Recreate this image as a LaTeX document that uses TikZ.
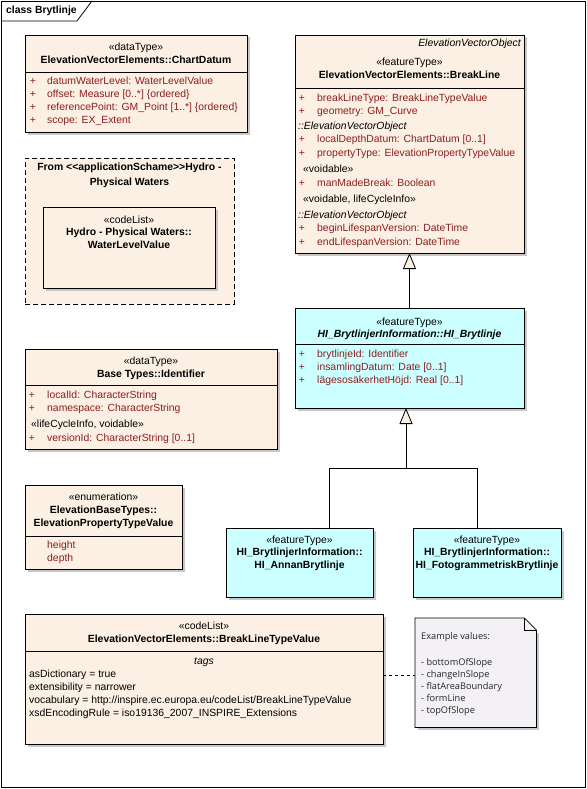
\documentclass[tikz,border=0pt]{standalone}
\usepackage{fontspec}
\setmainfont{Liberation Sans}
\newfontfamily\notefont{Open Sans}
\usetikzlibrary{shadows,arrows.meta}
\definecolor{cream}{HTML}{FBF0E3}
\definecolor{cyanbox}{HTML}{CCFFFF}
\definecolor{attrred}{HTML}{8B1F1F}
\definecolor{notefill}{HTML}{F3F1F5}
\newcommand{\myattr}[4]{\node[atxt] at (#1,#3) {+}; \node[atxt, anchor=mid west] at (#2,#3) {#4};}
\tikzset{
  box/.style={draw=black, line width=0.8pt, anchor=north west, inner sep=0pt, outer sep=0pt,
    drop shadow={shadow xshift=2.5pt, shadow yshift=-2.5pt, fill=black!22, opacity=1}},
  creambox/.style={box, fill=cream},
  cyanb/.style={box, fill=cyanbox},
  txt/.style={inner sep=0pt, anchor=mid, font=\fontsize{10.4}{12}\selectfont},
  btxt/.style={txt, font=\fontsize{10.4}{12}\selectfont\bfseries},
  bitxt/.style={txt, font=\fontsize{10.4}{12}\selectfont\bfseries\itshape},
  itxt/.style={txt, font=\fontsize{10.4}{12}\selectfont\itshape},
  atxt/.style={txt, text=attrred},
  ntxt/.style={inner sep=0pt, anchor=mid west, font=\notefont\fontsize{9.2}{11}\selectfont, text=black!85},
  divider/.style={line width=0.8pt},
  conn/.style={line width=0.9pt},
  gen/.style={conn, -{Triangle[width=13pt, length=16pt, fill=cream, line width=0.8pt]}},
  dashline/.style={line width=0.8pt, dash pattern=on 3pt off 3pt}
}
\begin{document}
\begin{tikzpicture}[x=1pt, y=-1pt]
\useasboundingbox (0,0) rectangle (586,789);
\fill[white] (0,0) rectangle (586,789);
% frame
\draw[line width=0.8pt] (1,1) rectangle (585,787);
\draw[line width=0.8pt] (1,21) -- (77,21) -- (92,1);
\node[btxt, anchor=mid west] (title) at (6,11) {class Brytlinje};

% ChartDatum
\node[creambox, minimum width=222pt, minimum height=97pt] (cd) at (25,35) {};
\node[txt] at (136,48) {«dataType»};
\node[btxt] at (136,61) {ElevationVectorElements::ChartDatum};
\draw[divider] (25,72) -- (247,72);
\myattr{33}{47}{82}{datumWaterLevel: WaterLevelValue}
\myattr{33}{47}{95}{offset: Measure [0..*] \{ordered\}}
\myattr{33}{47}{108}{referencePoint: GM\_Point [1..*] \{ordered\}}
\myattr{33}{47}{121}{scope: EX\_Extent}

% BreakLine
\node[creambox, minimum width=229pt, minimum height=218pt] (bl) at (295,35) {};
\node[itxt, anchor=mid east] at (521,44) {ElevationVectorObject};
\node[txt] at (409.5,63) {«featureType»};
\node[btxt] at (409.5,76) {ElevationVectorElements::BreakLine};
\draw[divider] (295,88) -- (524,88);
\myattr{302}{317}{99}{breakLineType: BreakLineTypeValue}
\myattr{302}{317}{112}{geometry: GM\_Curve}
\node[itxt, anchor=mid west] at (298,127) {::ElevationVectorObject};
\myattr{302}{317}{140}{localDepthDatum: ChartDatum [0..1]}
\myattr{302}{317}{154}{propertyType: ElevationPropertyTypeValue}
\node[txt, anchor=mid west] at (303,170) {«voidable»};
\myattr{302}{317}{184}{manMadeBreak: Boolean}
\node[txt, anchor=mid west] at (303,200) {«voidable, lifeCycleInfo»};
\node[itxt, anchor=mid west] at (298,216) {::ElevationVectorObject};
\myattr{302}{317}{229}{beginLifespanVersion: DateTime}
\myattr{302}{317}{243}{endLifespanVersion: DateTime}

% Hydro package
\node[draw=black, line width=0.8pt, dash pattern=on 5pt off 3pt, fill=cream, anchor=north west,
  minimum width=209pt, minimum height=146pt, inner sep=0pt] (pkg) at (25,158) {};
\node[btxt] at (129.5,168) {From <\kern0pt<applicationSchame>\kern0pt>Hydro -};
\node[btxt] at (129.5,183) {Physical Waters};
\node[creambox, minimum width=172pt, minimum height=81pt] (wlv) at (43,207) {};
\node[txt] at (129,221) {«codeList»};
\node[btxt] at (129,233) {Hydro - Physical Waters::};
\node[btxt] at (129,246) {WaterLevelValue};

% HI_Brytlinje
\node[cyanb, minimum width=229pt, minimum height=100pt] (hib) at (295,308) {};
\node[txt] at (409.5,323) {«featureType»};
\node[bitxt] at (409.5,335) {HI\_BrytlinjerInformation::HI\_Brytlinje};
\draw[divider] (295,344) -- (524,344);
\myattr{302}{317}{355}{brytlinjeId: Identifier}
\myattr{302}{317}{368}{insamlingDatum: Date [0..1]}
\myattr{302}{317}{381}{lägesosäkerhetHöjd: Real [0..1]}

% Identifier
\node[creambox, minimum width=252pt, minimum height=100pt] (idf) at (25,349) {};
\node[txt] at (151,362) {«dataType»};
\node[btxt] at (151,375) {Base Types::Identifier};
\draw[divider] (25,385) -- (277,385);
\myattr{32}{47}{396}{localId: CharacterString}
\myattr{32}{47}{409}{namespace: CharacterString}
\node[txt, anchor=mid west] at (31,425) {«lifeCycleInfo, voidable»};
\myattr{32}{47}{439}{versionId: CharacterString [0..1]}

% Enumeration
\node[creambox, minimum width=157pt, minimum height=84pt] (enm) at (25,485) {};
\node[txt] at (103.5,498) {«enumeration»};
\node[btxt] at (103.5,511) {ElevationBaseTypes::};
\node[btxt] at (103.5,524) {ElevationPropertyTypeValue};
\draw[divider] (25,536) -- (182,536);
\node[atxt, anchor=mid west] at (47,546) {height};
\node[atxt, anchor=mid west] at (47,559) {depth};

% Annan / Foto
\node[cyanb, minimum width=147pt, minimum height=69pt] (annan) at (226,528) {};
\node[txt] at (299.5,541) {«featureType»};
\node[btxt] at (299.5,553) {HI\_BrytlinjerInformation::};
\node[btxt] at (299.5,566) {HI\_AnnanBrytlinje};
\node[cyanb, minimum width=148pt, minimum height=69pt] (foto) at (413,528) {};
\node[txt] at (487,541) {«featureType»};
\node[btxt] at (487,553) {HI\_BrytlinjerInformation::};
\node[btxt] at (487,566) {HI\_FotogrammetriskBrytlinje};

% BreakLineTypeValue
\node[creambox, minimum width=358pt, minimum height=130pt] (bltv) at (25,614) {};
\node[txt] at (204,627) {«codeList»};
\node[btxt] at (204,640) {ElevationVectorElements::BreakLineTypeValue};
\draw[divider] (25,651) -- (383,651);
\node[itxt] at (204,662) {tags};
\node[txt, anchor=mid west] at (29,675) {asDictionary = true};
\node[txt, anchor=mid west] at (29,688) {extensibility = narrower};
\node[txt, anchor=mid west] at (29,701) {vocabulary = http://inspire.ec.europa.eu/codeList/BreakLineTypeValue};
\node[txt, anchor=mid west] at (29,714) {xsdEncodingRule = iso19136\_2007\_INSPIRE\_Extensions};

% Note
\node[anchor=north west, minimum width=121pt, minimum height=109pt, inner sep=0pt] (note) at (415,618) {};
\fill[black!22] ([shift={(2.5pt,-2.5pt)}]note.north west) ++(0,12) |- ([shift={(2.5pt,-2.5pt)}]note.south east) |- cycle;
\draw[line width=0.8pt, fill=notefill] (note.north west) -- ([xshift=-12pt]note.north east) -- ([yshift=-12pt]note.north east) -- (note.south east) -- (note.south west) -- cycle;
\draw[line width=0.8pt] ([xshift=-12pt]note.north east) |- ([yshift=-12pt]note.north east);
\node[ntxt] at (421,637) {Example values:};
\node[ntxt] at (421,663) {- bottomOfSlope};
\node[ntxt] at (421,675) {- changeInSlope};
\node[ntxt] at (421,687) {- flatAreaBoundary};
\node[ntxt] at (421,699) {- formLine};
\node[ntxt] at (421,711) {- topOfSlope};

% connectors
\coordinate (lk) at (0,675);
\draw[dashline] (bltv.east |- lk) -- (note.west |- lk);
\draw[gen] (hib.north) -- (bl.south);
\coordinate (jA) at (329,468);
\coordinate (jF) at (477,468);
\coordinate (jM) at (406,468);
\draw[conn] (annan.north -| jA) -- (jA) -- (jF) -- (foto.north -| jF);
\draw[gen] (jM) -- (hib.south -| jM);
\end{tikzpicture}
\end{document}
